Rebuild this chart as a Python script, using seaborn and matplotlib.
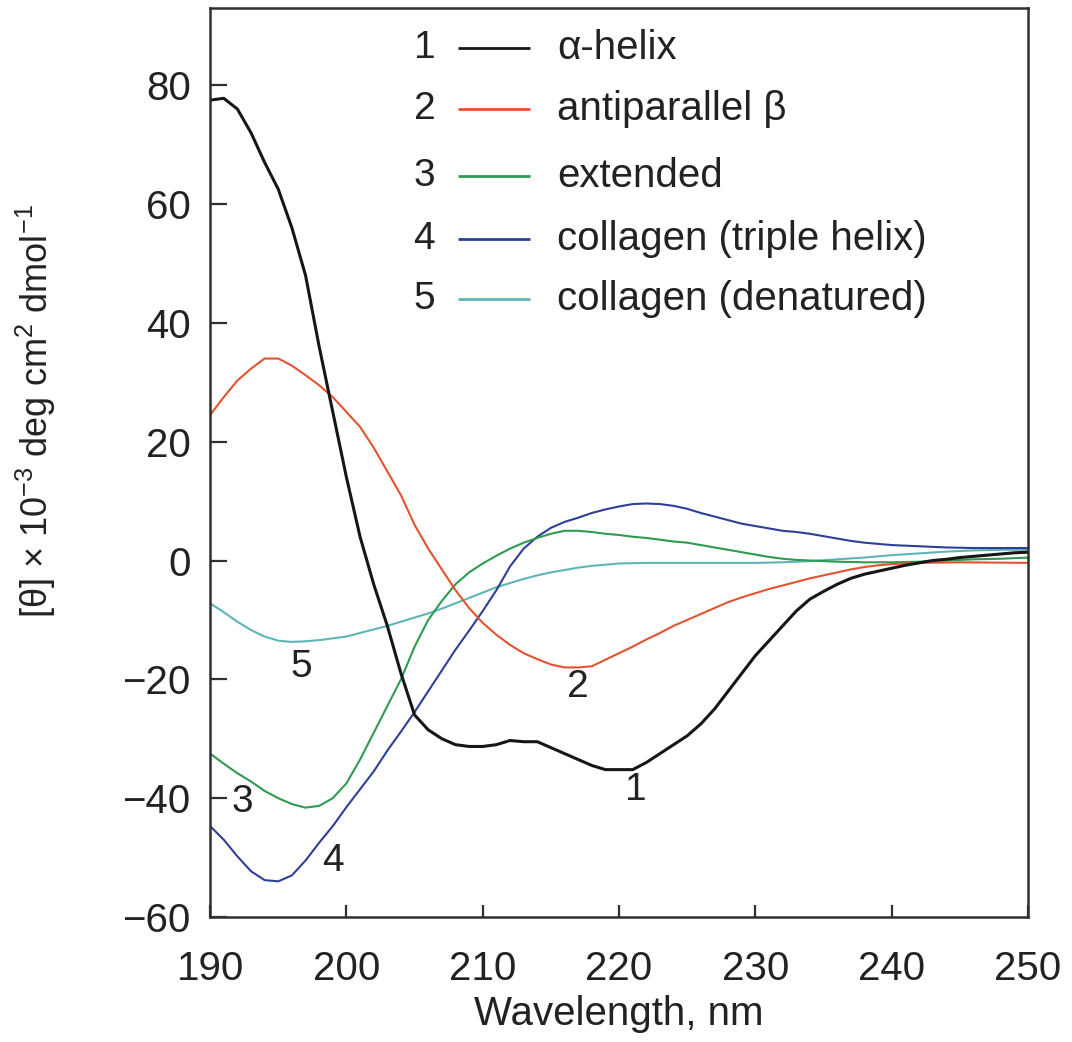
import numpy as np
import pandas as pd
import matplotlib
matplotlib.use("Agg")
import matplotlib.pyplot as plt
import seaborn as sns

# Wavelength grids (nm) and mean residue ellipticity values (x10^-3 deg cm^2 dmol^-1)
wl_helix = [190, 191, 192, 193, 194, 195, 196, 197, 198, 199, 200, 201, 202, 203, 204,
            205, 206, 207, 208, 209, 210, 211, 212, 213, 214, 215, 216, 217, 218, 219,
            220, 221, 222, 223, 224, 225, 226, 227, 228, 229, 230, 231, 232, 233, 234,
            235, 236, 237, 238, 239, 240, 241, 242, 243, 244, 245, 246, 247, 248, 249, 250]
helix = [77.5, 77.8, 76.0, 72.0, 67.0, 62.5, 56.0, 48.0, 36.0, 25.0, 14.0, 4.0, -4.0, -11.0, -19.0,
         -26.0, -28.5, -30.0, -31.0, -31.3, -31.3, -31.0, -30.3, -30.5, -30.5, -31.5, -32.5, -33.5, -34.5, -35.2,
         -35.2, -35.2, -34.0, -32.5, -31.0, -29.5, -27.5, -25.0, -22.0, -19.0, -16.0, -13.5, -11.0, -8.5, -6.5,
         -5.2, -4.0, -3.0, -2.3, -1.8, -1.3, -0.8, -0.4, 0.0, 0.2, 0.5, 0.7, 0.9, 1.1, 1.3, 1.4]

wl_beta = [190, 191, 192, 193, 194, 195, 196, 197, 198, 199, 200, 201, 202, 203, 204,
           205, 206, 207, 208, 209, 210, 211, 212, 213, 214, 215, 216, 217, 218, 219,
           220, 221, 222, 223, 224, 225, 226, 227, 228, 229, 230, 231, 232, 233, 234,
           235, 236, 237, 238, 239, 240, 242, 245, 250]
beta = [24.5, 27.5, 30.3, 32.3, 34.0, 34.0, 32.8, 31.2, 29.5, 27.5, 25.0, 22.5, 19.0, 15.0, 11.0,
        6.0, 2.0, -1.5, -5.0, -8.0, -10.5, -12.5, -14.2, -15.6, -16.6, -17.5, -18.0, -18.0, -17.8, -16.7,
        -15.6, -14.5, -13.3, -12.2, -11.0, -10.0, -9.0, -8.0, -7.0, -6.2, -5.5, -4.8, -4.2, -3.6, -3.0,
        -2.5, -2.0, -1.5, -1.1, -0.8, -0.6, -0.4, -0.3, -0.4]

wl_ext = [190, 191, 192, 193, 194, 195, 196, 197, 198, 199, 200, 201, 202, 203, 204,
          205, 206, 207, 208, 209, 210, 211, 212, 213, 214, 215, 216, 217, 218, 219,
          220, 221, 222, 223, 224, 225, 226, 227, 228, 229, 230, 231, 232, 233, 234,
          236, 238, 240, 242, 244, 246, 248, 250]
extended = [-32.5, -34.2, -35.8, -37.2, -38.8, -40.0, -41.0, -41.6, -41.3, -40.0, -37.5, -33.5, -29.0, -24.5, -20.0,
            -14.5, -10.0, -6.8, -4.0, -2.0, -0.5, 0.8, 2.0, 3.0, 3.8, 4.5, 5.0, 5.0, 4.8, 4.5,
            4.3, 4.0, 3.8, 3.5, 3.2, 3.0, 2.6, 2.2, 1.8, 1.4, 1.0, 0.6, 0.3, 0.1, 0.0,
            -0.2, -0.3, -0.3, -0.2, 0.0, 0.2, 0.3, 0.5]

wl_coll = [190, 191, 192, 193, 194, 195, 196, 197, 198, 199, 200, 201, 202, 203, 204,
           205, 206, 207, 208, 209, 210, 211, 212, 213, 214, 215, 216, 217, 218, 219,
           220, 221, 222, 223, 224, 225, 226, 227, 228, 229, 230, 231, 232, 233, 234,
           235, 236, 237, 238, 239, 240, 242, 244, 246, 248, 250]
collagen = [-44.7, -47.0, -49.8, -52.3, -53.8, -54.0, -53.0, -50.5, -47.5, -44.7, -41.5, -38.5, -35.5, -32.0, -28.8,
            -25.5, -22.0, -18.5, -15.0, -11.8, -8.5, -5.0, -1.0, 2.0, 4.0, 5.5, 6.5, 7.2, 8.0, 8.6,
            9.1, 9.5, 9.6, 9.5, 9.2, 8.7, 8.0, 7.4, 6.8, 6.2, 5.8, 5.4, 5.0, 4.8, 4.5,
            4.1, 3.7, 3.3, 3.0, 2.8, 2.6, 2.4, 2.2, 2.1, 2.1, 2.1]

wl_dena = [190, 191, 192, 193, 194, 195, 196, 197, 198, 199, 200, 201, 202, 203, 204,
           205, 206, 207, 208, 209, 210, 211, 212, 213, 214, 215, 216, 217, 218, 219,
           220, 222, 224, 226, 228, 230, 232, 234, 236, 238, 240, 242, 244, 246, 248, 250]
denatured = [-7.2, -8.7, -10.3, -11.7, -12.8, -13.5, -13.7, -13.6, -13.4, -13.1, -12.8, -12.2, -11.6, -11.0, -10.3,
             -9.6, -8.9, -8.1, -7.2, -6.3, -5.4, -4.5, -3.8, -3.1, -2.5, -2.0, -1.6, -1.2, -0.9, -0.7,
             -0.5, -0.4, -0.4, -0.4, -0.4, -0.4, -0.3, -0.1, 0.2, 0.5, 0.9, 1.2, 1.5, 1.7, 1.8, 1.8]

series_nums = ["1", "2", "3", "4", "5"]
series_names = ["\u03b1-helix", "antiparallel \u03b2", "extended",
                "collagen (triple helix)", "collagen (denatured)"]
series_colors = ["#161616", "#e4532f", "#2f9a52", "#2f3f98", "#5fb5b5"]
series_widths = [2.2, 1.5, 1.5, 1.5, 1.5]

# Positions of the numeric tags next to each curve (wavelength, ellipticity)
tag_x = [221.2, 217.0, 192.4, 199.0, 196.7]
tag_y = [-38.6, -21.3, -40.6, -50.6, -17.9]

x_ticks = [190, 200, 210, 220, 230, 240, 250]
y_ticks = [-60, -40, -20, 0, 20, 40, 60, 80]

sns.set_theme(style="white")
plt.rcParams["font.family"] = ["Liberation Sans", "DejaVu Sans"]
plt.rcParams["mathtext.fontset"] = "custom"
plt.rcParams["mathtext.rm"] = "Liberation Sans"
plt.rcParams["mathtext.it"] = "Liberation Sans:italic"
plt.rcParams["mathtext.bf"] = "Liberation Sans:bold"
plt.rcParams["axes.unicode_minus"] = True

frames = []
for num, wl, vals in zip(series_nums,
                         [wl_helix, wl_beta, wl_ext, wl_coll, wl_dena],
                         [helix, beta, extended, collagen, denatured]):
    frames.append(pd.DataFrame({"wavelength": wl, "theta": vals, "series": num}))
data = pd.concat(frames, ignore_index=True)

fig = plt.figure(figsize=(10.72, 10.42), dpi=100)
ax = fig.add_axes([0.196, 0.12, 0.763, 0.8723])

# Draw the lighter curves first so the alpha-helix trace sits on top
for i in [4, 3, 2, 1, 0]:
    sub = data[data["series"] == series_nums[i]]
    sns.lineplot(data=sub, x="wavelength", y="theta", ax=ax, color=series_colors[i],
                 linewidth=series_widths[i], estimator=None, sort=False, legend=False)

for num, tx, ty in zip(series_nums, tag_x, tag_y):
    ax.text(tx, ty, num, fontsize=28, color="#222222", ha="center", va="center")

ax.set_xlim(190, 250)
ax.set_ylim(-60, 93)
ax.set_xticks(x_ticks)
ax.set_yticks(y_ticks)

for side in ["left", "right", "top", "bottom"]:
    ax.spines[side].set_visible(True)
    ax.spines[side].set_color("#303030")
    ax.spines[side].set_linewidth(1.8)

ax.tick_params(axis="x", direction="in", length=9, width=1.6, color="#303030",
               labelsize=29, pad=24, labelcolor="#222222", bottom=True, top=False)
ax.tick_params(axis="y", direction="in", length=12, width=1.6, color="#303030",
               labelsize=29, pad=14, labelcolor="#222222", left=True, right=False)

ax.set_xlabel("Wavelength, nm", fontsize=29, color="#222222", labelpad=5)
ax.set_ylabel(r"[θ] × 10$^{-3}$ deg cm$^{2}$ dmol$^{-1}$", fontsize=26, color="#222222")
ax.yaxis.set_label_coords(-0.186, 0.556)

# Numbered key in the upper part of the panel
row_y = [0.956, 0.889, 0.815, 0.746, 0.680]
for num, name, col, ry in zip(series_nums, series_names, series_colors, row_y):
    ax.text(0.262, ry, num, transform=ax.transAxes, fontsize=28, color="#222222",
            ha="center", va="center")
    ax.plot([0.303, 0.391], [ry, ry], transform=ax.transAxes, color=col, linewidth=2.0,
            solid_capstyle="butt")
    ax.text(0.424, ry, name, transform=ax.transAxes, fontsize=29, color="#222222",
            ha="left", va="center")

fig.savefig("out.png", dpi=100, facecolor="white")
